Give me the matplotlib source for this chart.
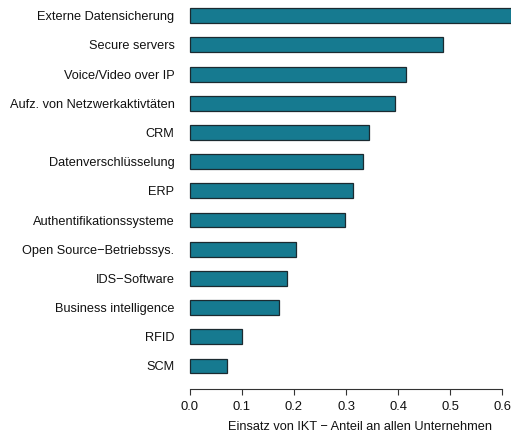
import matplotlib
matplotlib.use("Agg")
import matplotlib.pyplot as plt

# categories from top to bottom
kategorien = [
    "Externe Datensicherung",
    "Secure servers",
    "Voice/Video over IP",
    "Aufz. von Netzwerkaktivtäten",
    "CRM",
    "Datenverschlüsselung",
    "ERP",
    "Authentifikationssysteme",
    "Open Source\u2212Betriebssys.",
    "IDS\u2212Software",
    "Business intelligence",
    "RFID",
    "SCM",
]
anteile = [0.63, 0.486, 0.415, 0.395, 0.344, 0.332, 0.314, 0.299, 0.204, 0.186, 0.172, 0.100, 0.071]
x_ticks = [0.0, 0.1, 0.2, 0.3, 0.4, 0.5, 0.6]

plt.rcParams["font.family"] = ["Liberation Sans", "DejaVu Sans"]

fig = plt.figure(figsize=(5.11, 4.38), dpi=100)
ax = fig.add_axes([189.7 / 511, 1 - 389 / 438, 312.6 / 511, 389 / 438])

n = len(kategorien)
pos = list(range(n - 1, -1, -1))
ax.barh(pos, anteile, height=0.51, color="#167A90", edgecolor="#1b2a30",
        linewidth=0.9, clip_on=False)

ax.set_xlim(0, 0.6)
ax.set_ylim(-0.79, n - 1 + 0.54)
ax.set_yticks(pos)
ax.set_yticklabels(kategorien, fontsize=9.2, color="#111111")
ax.tick_params(axis="y", length=0, pad=11)
ax.set_xticks(x_ticks)
ax.set_xticklabels([f"{t:.1f}" for t in x_ticks], fontsize=9.4, color="#111111")
ax.tick_params(axis="x", length=4, width=0.8, pad=4.5, color="#333333")
ax.set_xlabel("Einsatz von IKT \u2212 Anteil an allen Unternehmen", fontsize=9.2,
              color="#111111")
# label sits a bit right of the axis centre, as in the original
ax.xaxis.set_label_coords(0.545, -0.083)

for s in ["top", "right", "left"]:
    ax.spines[s].set_visible(False)
ax.spines["bottom"].set_linewidth(0.8)
ax.spines["bottom"].set_color("#333333")

fig.savefig("out.png", dpi=100)
